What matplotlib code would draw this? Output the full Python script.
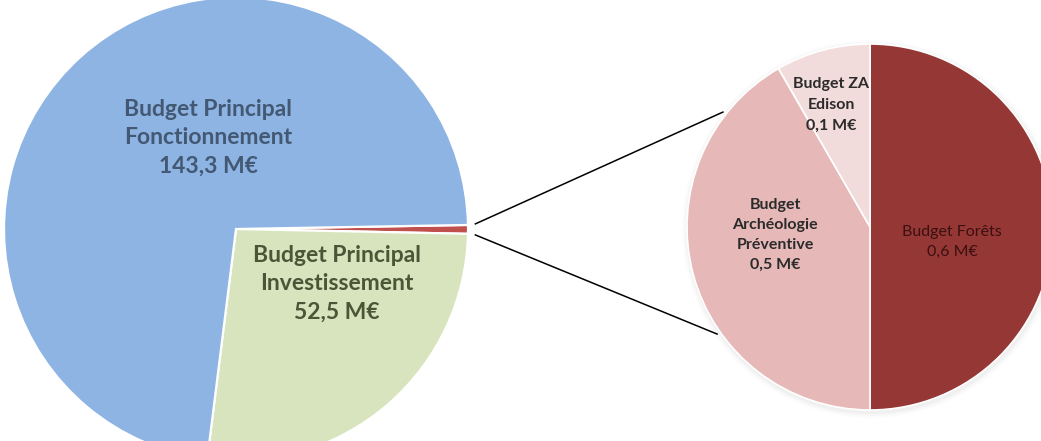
import numpy as np
import matplotlib.pyplot as plt

# data
main_labels = ["Budget Principal\nFonctionnement", "Budget Principal\nInvestissement"]
main_values = [143.3, 52.5]
detail_labels = ["Budget Forêts", "Budget\nArchéologie\nPréventive", "Budget ZA\nEdison"]
detail_values = [0.6, 0.5, 0.1]

main_colors = ["#8EB4E3", "#D7E4BD"]
other_color = "#C0504D"
detail_colors = ["#953735", "#E6B9B8", "#F2DCDB"]


def fmt(v):
    return ("%.1f M€" % v).replace(".", ",")


fig = plt.figure(figsize=(10.41, 4.41), dpi=100)
ax = fig.add_axes([0, 0, 1, 1])
H = 441

# left pie: other (grouped), investissement, fonctionnement -- clockwise from ~east
c1 = (236, H - 229)
r1 = 232
vals1 = [sum(detail_values), main_values[1], main_values[0]]
cols1 = [other_color, main_colors[1], main_colors[0]]
start1 = 1.0
wedges1, _ = ax.pie(vals1, colors=cols1, startangle=start1, counterclock=False,
                    center=c1, radius=r1, explode=[0.012, 0.012, 0],
                    wedgeprops=dict(linewidth=1.6, edgecolor="white"))

# right pie: detail of the grouped slice
c2 = (870, H - 227)
r2 = 183
for k, a in enumerate([0.05, 0.035, 0.02]):
    ax.add_patch(plt.Circle((c2[0] + 1, c2[1] - 2), r2 + 2 + 2 * k, color="#808080",
                            alpha=a, lw=0, zorder=0))
wedges2, _ = ax.pie(detail_values, colors=detail_colors, startangle=90, counterclock=False,
                    center=c2, radius=r2,
                    wedgeprops=dict(linewidth=1.2, edgecolor="white"))

# connector lines
tot = sum(vals1)
a_top = np.deg2rad(start1)
a_bot = np.deg2rad(start1 - 360 * vals1[0] / tot)
off = 0.012 * r1
mid = np.deg2rad(start1 - 180 * vals1[0] / tot)
ox, oy = c1[0] + off * np.cos(mid), c1[1] + off * np.sin(mid)
p_top = (ox + 1.02 * r1 * np.cos(a_top), oy + 1.02 * r1 * np.sin(a_top) + 1)
p_bot = (ox + 1.02 * r1 * np.cos(a_bot), oy + 1.02 * r1 * np.sin(a_bot) - 1)
q_top = (c2[0] + 1.02 * r2 * np.cos(np.deg2rad(142)), c2[1] + 1.02 * r2 * np.sin(np.deg2rad(142)))
q_bot = (c2[0] + 1.02 * r2 * np.cos(np.deg2rad(215)), c2[1] + 1.02 * r2 * np.sin(np.deg2rad(215)))
ax.plot([p_top[0], q_top[0]], [p_top[1], q_top[1]], color="black", lw=1.1)
ax.plot([p_bot[0], q_bot[0]], [p_bot[1], q_bot[1]], color="black", lw=1.1)

font = "Lato"
ax.text(208, H - 138, main_labels[0] + "\n" + fmt(main_values[0]), ha="center", va="center",
        fontsize=16.5, fontweight="bold", color="#435873", family=font, linespacing=1.45)
ax.text(337, H - 284, main_labels[1] + "\n" + fmt(main_values[1]), ha="center", va="center",
        fontsize=16.5, fontweight="bold", color="#4A5637", family=font, linespacing=1.45)

ax.text(952, H - 242, detail_labels[0] + "\n" + fmt(detail_values[0]), ha="center", va="center",
        fontsize=11.5, color="#3A1010", family=font, linespacing=1.55)
ax.text(775, H - 235, detail_labels[1] + "\n" + fmt(detail_values[1]), ha="center", va="center",
        fontsize=11.5, fontweight="bold", color="#2B2B2B", family=font, linespacing=1.55)
ax.text(831, H - 105, detail_labels[2] + "\n" + fmt(detail_values[2]), ha="center", va="center",
        fontsize=11.5, fontweight="bold", color="#2B2B2B", family=font, linespacing=1.6)

ax.set_xlim(0, 1041)
ax.set_ylim(0, H)
ax.set_aspect("equal")
ax.axis("off")
fig.savefig("out.png", dpi=100)
